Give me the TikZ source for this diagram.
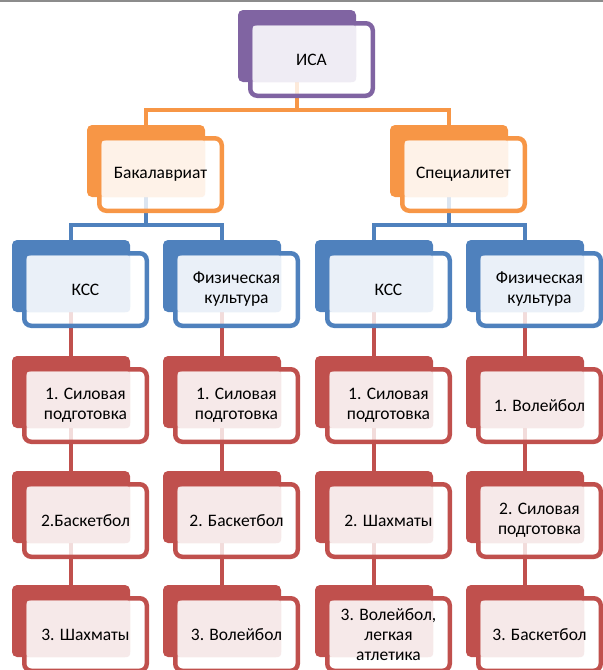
\documentclass[tikz,border=0pt]{standalone}
\usepackage{fontspec}
\setmainfont{Carlito}
\usetikzlibrary{backgrounds,calc}
\definecolor{cpur}{HTML}{8064A2}
\definecolor{corg}{HTML}{F79646}
\definecolor{cblu}{HTML}{4F81BD}
\definecolor{cred}{HTML}{C0504D}
\definecolor{tpur}{HTML}{EFECF4}
\definecolor{torg}{HTML}{FEF2E8}
\definecolor{tblu}{HTML}{EAF0F8}
\definecolor{tred}{HTML}{F6E9E9}
\tikzset{
  backbox/.style={fill=#1, rounded corners=5pt, minimum width=118pt, minimum height=72pt, inner sep=0pt, outer sep=0pt, anchor=north west},
  frontbox/.style={draw=#1, line width=4.5pt, fill=white, fill opacity=0.8, rounded corners=7pt, minimum width=122.5pt, minimum height=72.5pt, inner sep=0pt, outer sep=0pt, anchor=north west},
  tintbox/.style={fill=#1, rounded corners=3pt, minimum width=103.5pt, minimum height=56.5pt, inner sep=0pt, outer sep=0pt, anchor=south east},
  lbl/.style={font=\fontsize{17.5}{20}\selectfont, align=center, text=black, inner sep=0pt},
  conn/.style={draw=#1, line width=4pt},
  edgeline/.style={draw=gray!90, line width=2pt}
}
\newcommand{\mybox}[6]{%
  \node[backbox=#4] (#1-b) at (#2,#3) {};
  \node[frontbox=#4] (#1-f) at ($(#1-b.north west)+(12.25,13.25)$) {};
  \node[tintbox=#5] (#1-t) at (#1-b.south east) {};
  \node[lbl] (#1) at (#1-f.center) {#6};
}
\begin{document}
\begin{tikzpicture}[x=1pt,y=-1pt]
\useasboundingbox (0,0) rectangle (603,670);
\clip (0,0) rectangle (603,670);
\coordinate (tl) at (0,1.2);
\coordinate (tr) at (603,1.2);
\draw[edgeline] (tl) -- (tr);
% level 0
\mybox{isa}{238}{10}{cpur}{tpur}{ИСА}
% level 1
\mybox{bak}{87}{125}{corg}{torg}{Бакалавриат}
\mybox{spec}{390}{125}{corg}{torg}{Специалитет}
% level 2
\mybox{b1}{12}{240}{cblu}{tblu}{КСС}
\mybox{b2}{163}{240}{cblu}{tblu}{Физическая\\культура}
\mybox{b3}{315}{240}{cblu}{tblu}{КСС}
\mybox{b4}{466}{240}{cblu}{tblu}{Физическая\\культура}
% column 1
\mybox{r11}{12}{356}{cred}{tred}{1. Силовая\\подготовка}
\mybox{r12}{12}{471}{cred}{tred}{2.Баскетбол}
\mybox{r13}{12}{585}{cred}{tred}{3. Шахматы}
% column 2
\mybox{r21}{163}{356}{cred}{tred}{1. Силовая\\подготовка}
\mybox{r22}{163}{471}{cred}{tred}{2. Баскетбол}
\mybox{r23}{163}{585}{cred}{tred}{3. Волейбол}
% column 3
\mybox{r31}{315}{356}{cred}{tred}{1. Силовая\\подготовка}
\mybox{r32}{315}{471}{cred}{tred}{2. Шахматы}
\mybox{r33}{315}{585}{cred}{tred}{3. Волейбол,\\легкая\\атлетика}
% column 4
\mybox{r41}{466}{356}{cred}{tred}{1. Волейбол}
\mybox{r42}{466}{471}{cred}{tred}{2. Силовая\\подготовка}
\mybox{r43}{466}{585}{cred}{tred}{3. Баскетбол}
\begin{pgfonlayer}{background}
\draw[conn=corg] (isa-b.south) |- ($(isa-f.south)!0.5!(bak-b.north)$) -| (bak-b.north);
\draw[conn=corg] (isa-b.south) |- ($(isa-f.south)!0.5!(spec-b.north)$) -| (spec-b.north);
\draw[conn=cblu] (bak-b.south) |- ($(bak-f.south)!0.5!(b1-b.north)$) -| (b1-b.north);
\draw[conn=cblu] (bak-b.south) |- ($(bak-f.south)!0.5!(b2-b.north)$) -| (b2-b.north);
\draw[conn=cblu] (spec-b.south) |- ($(spec-f.south)!0.5!(b3-b.north)$) -| (b3-b.north);
\draw[conn=cblu] (spec-b.south) |- ($(spec-f.south)!0.5!(b4-b.north)$) -| (b4-b.north);
\foreach \c in {1,2,3,4} {
  \draw[conn=cred] (b\c-b.south) -- (r\c1-b.north);
  \draw[conn=cred] (r\c1-b.south) -- (r\c2-b.north);
  \draw[conn=cred] (r\c2-b.south) -- (r\c3-b.north);
}
\end{pgfonlayer}
\end{tikzpicture}
\end{document}
